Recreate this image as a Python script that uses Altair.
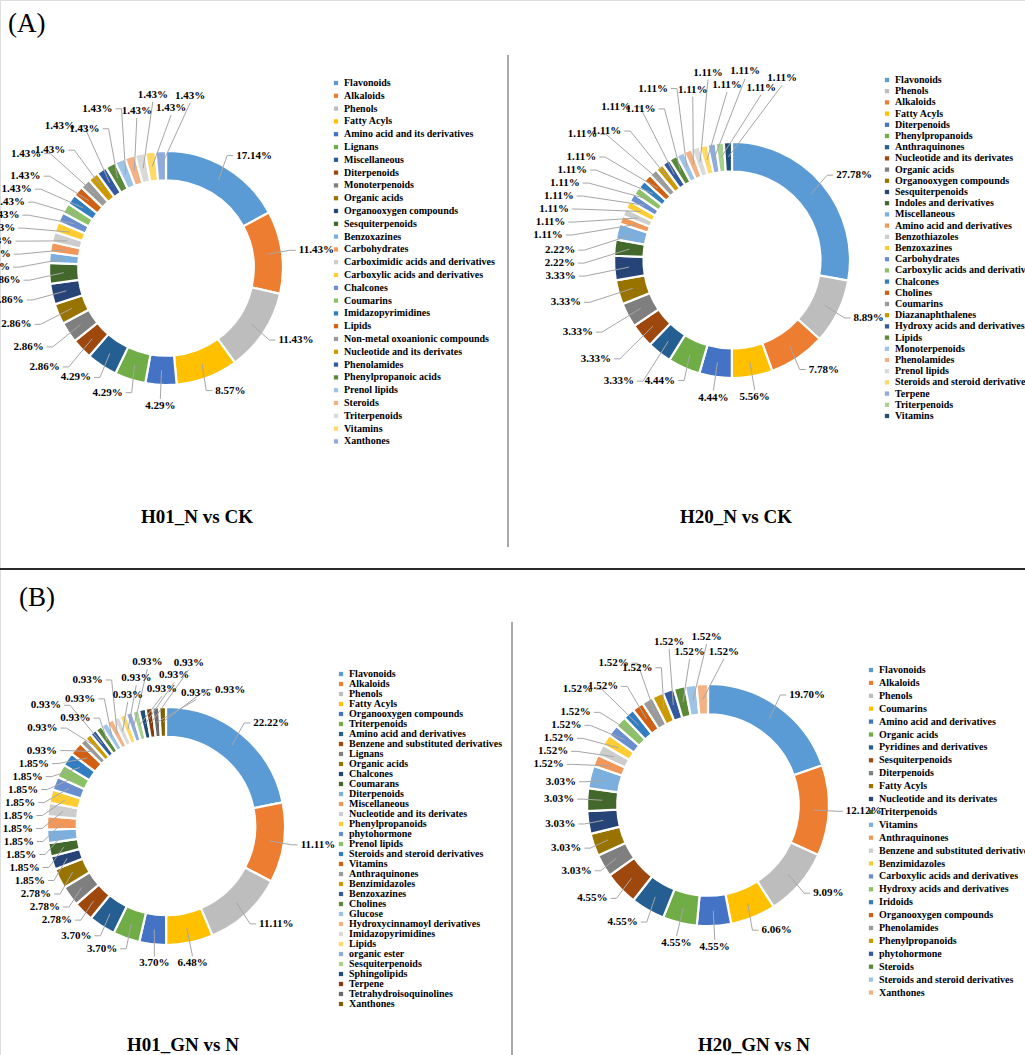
import altair as alt
import numpy as np
import pandas as pd

SERIF = "Liberation Serif"

# ---------------- data ----------------
h01_n_cats = [
    "Flavonoids", "Alkaloids", "Phenols", "Fatty Acyls", "Amino acid and its derivatives",
    "Lignans", "Miscellaneous", "Diterpenoids", "Monoterpenoids", "Organic acids",
    "Organooxygen compounds", "Sesquiterpenoids", "Benzoxazines", "Carbohydrates",
    "Carboximidic acids and derivatives", "Carboxylic acids and derivatives", "Chalcones",
    "Coumarins", "Imidazopyrimidines", "Lipids", "Non-metal oxoanionic compounds",
    "Nucleotide and its derivates", "Phenolamides", "Phenylpropanoic acids", "Prenol lipids",
    "Steroids", "Triterpenoids", "Vitamins", "Xanthones",
]
h01_n_vals = [
    17.14, 11.43, 11.43, 8.57, 4.29, 4.29, 4.29, 2.86, 2.86, 2.86, 2.86, 2.86,
    1.43, 1.43, 1.43, 1.43, 1.43, 1.43, 1.43, 1.43, 1.43, 1.43, 1.43, 1.43,
    1.43, 1.43, 1.43, 1.43, 1.43,
]

h20_n_cats = [
    "Flavonoids", "Phenols", "Alkaloids", "Fatty Acyls", "Diterpenoids", "Phenylpropanoids",
    "Anthraquinones", "Nucleotide and its derivates", "Organic acids", "Organooxygen compounds",
    "Sesquiterpenoids", "Indoles and derivatives", "Miscellaneous", "Amino acid and derivatives",
    "Benzothiazoles", "Benzoxazines", "Carbohydrates", "Carboxylic acids and derivatives",
    "Chalcones", "Cholines", "Coumarins", "Diazanaphthalenes", "Hydroxy acids and derivatives",
    "Lipids", "Monoterpenoids", "Phenolamides", "Prenol lipids",
    "Steroids and steroid derivatives", "Terpene", "Triterpenoids", "Vitamins",
]
h20_n_vals = [
    27.78, 8.89, 7.78, 5.56, 4.44, 4.44, 3.33, 3.33, 3.33, 3.33, 3.33, 2.22, 2.22,
    1.11, 1.11, 1.11, 1.11, 1.11, 1.11, 1.11, 1.11, 1.11, 1.11, 1.11, 1.11, 1.11,
    1.11, 1.11, 1.11, 1.11, 1.11,
]

h01_gn_cats = [
    "Flavonoids", "Alkaloids", "Phenols", "Fatty Acyls", "Organooxygen compounds",
    "Triterpenoids", "Amino acid and derivatives", "Benzene and substituted derivatives",
    "Lignans", "Organic acids", "Chalcones", "Coumarans", "Diterpenoids", "Miscellaneous",
    "Nucleotide and its derivates", "Phenylpropanoids", "phytohormone", "Prenol lipids",
    "Steroids and steroid derivatives", "Vitamins", "Anthraquinones", "Benzimidazoles",
    "Benzoxazines", "Cholines", "Glucose", "Hydroxycinnamoyl derivatives",
    "Imidazopyrimidines", "Lipids", "organic ester", "Sesquiterpenoids", "Sphingolipids",
    "Terpene", "Tetrahydroisoquinolines", "Xanthones",
]
h01_gn_vals = [
    22.22, 11.11, 11.11, 6.48, 3.70, 3.70, 3.70, 2.78, 2.78, 2.78,
    1.85, 1.85, 1.85, 1.85, 1.85, 1.85, 1.85, 1.85, 1.85, 1.85,
    0.93, 0.93, 0.93, 0.93, 0.93, 0.93, 0.93, 0.93, 0.93, 0.93, 0.93, 0.93, 0.93, 0.93,
]

h20_gn_cats = [
    "Flavonoids", "Alkaloids", "Phenols", "Coumarins", "Amino acid and derivatives",
    "Organic acids", "Pyridines and derivatives", "Sesquiterpenoids", "Diterpenoids",
    "Fatty Acyls", "Nucleotide and its derivates", "Triterpenoids", "Vitamins",
    "Anthraquinones", "Benzene and substituted derivatives", "Benzimidazoles",
    "Carboxylic acids and derivatives", "Hydroxy acids and derivatives", "Iridoids",
    "Organooxygen compounds", "Phenolamides", "Phenylpropanoids", "phytohormone", "Steroids",
    "Steroids and steroid derivatives", "Xanthones",
]
h20_gn_vals = [
    19.70, 12.12, 9.09, 6.06, 4.55, 4.55, 4.55, 4.55, 3.03, 3.03, 3.03, 3.03, 3.03,
    1.52, 1.52, 1.52, 1.52, 1.52, 1.52, 1.52, 1.52, 1.52, 1.52, 1.52, 1.52, 1.52,
]

panel_titles = ["H01_N vs CK", "H20_N vs CK", "H01_GN vs N", "H20_GN vs N"]
section_tags = ["(A)", "(B)"]

# Office series colours: accents, then their shades and tints
PALETTE = [
    "#5B9BD5", "#ED7D31", "#BDBDBD", "#FFC000", "#4472C4", "#70AD47",
    "#255E91", "#9E480E", "#7F7F7F", "#997300", "#264478", "#43682B",
    "#7CAFDD", "#F1975A", "#CDCDCD", "#FFCD33", "#698ED0", "#8CC168",
    "#327DC2", "#D26012", "#9A9A9A", "#CC9A00", "#335AA1", "#5A8A39",
    "#9DC3E6", "#F4B183", "#DADADA", "#FFD966", "#8FAADC", "#A9D18E",
    "#1F4E79", "#843C0C", "#6A6A6A", "#7F6000", "#203864", "#385723",
]
h20_n_colors = [PALETTE[0], PALETTE[2], PALETTE[1]] + PALETTE[3:31]

# layout of each donut panel: centre, outer radius, label ring offsets, number of
# label rows used for crowded small slices near the top, legend block, title
panels = [
    dict(cats=h01_n_cats, vals=h01_n_vals, colors=PALETTE[:29], cx=166, cy=268, R=117,
         off=(14, 26, 36), rows=2, legx=331, legy=78, legfs=10, legpad=2.8, tx=197, ty=517),
    dict(cats=h20_n_cats, vals=h20_n_vals, colors=h20_n_colors, cx=732, cy=260, R=118,
         off=(14, 36, 50), rows=2, legx=882, legy=75, legfs=10, legpad=1.2, tx=736, ty=517),
    dict(cats=h01_gn_cats, vals=h01_gn_vals, colors=PALETTE[:34], cx=166, cy=826, R=119,
         off=(14, 12, 11), rows=3, legx=336, legy=669, legfs=10, legpad=-0.1, tx=183,
         ty=1045),
    dict(cats=h20_gn_cats, vals=h20_gn_vals, colors=PALETTE[:26], cx=708, cy=805, R=121,
         off=(14, 10, 26), rows=2, legx=866, legy=665, legfs=10, legpad=2.9, tx=754,
         ty=1045),
]

HOLE = 0.75
LABEL_H = 13.0
ROW_STEP = 14.0


def text_width(s, fs=11.0):
    w = 0.0
    for ch in s:
        w += {"%": 1.0, ".": 0.25}.get(ch, 0.5)
    return w * fs


def spread_angles(mid, rl, small, wid, rows, iters=4000):
    """Push label angles apart until neighbouring labels no longer collide."""
    ang = mid.copy()
    n = len(ang)

    def need(i, j, a):
        r = min(rl[i], rl[j])
        s, c = abs(np.sin(a)), abs(np.cos(a))
        w = (wid[i] + wid[j]) / 2 + 4
        dv = LABEL_H / (r * s + 1e-9)
        dh = w / (r * c + 1e-9)
        if small[i] and small[j] and np.cos(a) > 0.55:
            dh /= rows
        return min(dv, dh)

    for _ in range(iters):
        moved = False
        for i in range(n):
            j = (i + 1) % n
            aj = ang[j] + (2 * np.pi if j == 0 else 0.0)
            gap = aj - ang[i]
            d = need(i, j, (ang[i] + aj) / 2)
            if gap < d - 1e-6:
                p = (d - gap) / 4
                ang[i] -= p
                ang[j] += p
                moved = True
        if not moved:
            break
    return ang


label_rows = []
leader_rows = []
for k, p in enumerate(panels):
    v = np.asarray(p["vals"], float)
    R = p["R"]
    rin = R * HOLE
    a1 = np.cumsum(v) / v.sum() * 2 * np.pi
    a0 = a1 - v / v.sum() * 2 * np.pi
    mid = (a0 + a1) / 2
    texts = [f"{x:.2f}%" for x in v]
    wid = np.array([text_width(t) for t in texts])
    o_big, o_mid, o_small = p["off"]
    rl = np.where(v >= 4, R + o_big, np.where(v >= 2, R + o_mid, R + o_small)).astype(float)
    small = v < 2
    ang = spread_angles(mid, rl, small, wid, p["rows"])
    # stagger the crowded small labels near the top over several rows
    flip = 0
    for i in range(len(v)):
        if small[i] and np.cos(ang[i]) > 0.55:
            rl[i] += (flip % p["rows"]) * ROW_STEP
            flip += 1
    rm = (R + rin) / 2
    for i in range(len(v)):
        ax = p["cx"] + rl[i] * np.sin(ang[i])
        ay = p["cy"] - rl[i] * np.cos(ang[i])
        px = p["cx"] + rm * np.sin(mid[i])
        py = p["cy"] - rm * np.cos(mid[i])
        s = np.sin(ang[i])
        if abs(s) >= 0.3:
            side = 1 if s > 0 else -1
            ex = ax - side * 6
            leader_rows.append(dict(x=px, y=py, x2=ex, y2=ay))
            leader_rows.append(dict(x=ex, y=ay, x2=ax, y2=ay))
            label_rows.append(dict(x=ax + side * 3, y=ay, t=texts[i],
                                   al="left" if side > 0 else "right"))
        else:
            up = np.cos(ang[i]) > 0
            leader_rows.append(dict(x=px, y=py, x2=ax, y2=ay))
            label_rows.append(dict(x=ax, y=ay + (-7 if up else 7), t=texts[i], al="center"))

labels_df = pd.DataFrame(label_rows)
leaders_df = pd.DataFrame(leader_rows)

layers = []

# donut rings with their legends
for k, p in enumerate(panels):
    df = pd.DataFrame({"cat": p["cats"], "v": p["vals"], "idx": range(len(p["cats"]))})
    ring = alt.Chart(df).mark_arc(
        outerRadius=p["R"], innerRadius=p["R"] * HOLE, stroke="white", strokeWidth=2.2
    ).encode(
        theta=alt.Theta("v:Q", stack=True),
        order=alt.Order("idx:Q"),
        color=alt.Color(
            "cat:N",
            scale=alt.Scale(domain=p["cats"], range=p["colors"]),
            legend=alt.Legend(
                orient="none", legendX=p["legx"], legendY=p["legy"], title=None,
                direction="vertical", symbolType="square", symbolSize=18,
                symbolStrokeWidth=0, labelFont=SERIF, labelFontWeight="bold",
                labelFontSize=p["legfs"], labelColor="black", rowPadding=p["legpad"],
                labelOffset=3, labelLimit=400, symbolLimit=60, padding=0,
            ),
        ),
        x=alt.value(p["cx"]),
        y=alt.value(p["cy"]),
    )
    layers.append(ring)

# leader lines
layers.append(
    alt.Chart(leaders_df).mark_rule(color="#A6A6A6", strokeWidth=1).encode(
        x=alt.X("x:Q", scale=None, axis=None),
        y=alt.Y("y:Q", scale=None, axis=None),
        x2="x2:Q",
        y2="y2:Q",
    )
)

# percentage labels
for al in ["left", "right", "center"]:
    layers.append(
        alt.Chart(labels_df).transform_filter(alt.datum.al == al).mark_text(
            align=al, baseline="middle", font=SERIF, fontWeight="bold", fontSize=11,
            color="black",
        ).encode(
            x=alt.X("x:Q", scale=None, axis=None),
            y=alt.Y("y:Q", scale=None, axis=None),
            text="t:N",
        )
    )

# panel titles
title_df = pd.DataFrame({
    "t": panel_titles,
    "x": [p["tx"] for p in panels],
    "y": [p["ty"] for p in panels],
})
layers.append(
    alt.Chart(title_df).mark_text(
        font=SERIF, fontWeight="bold", fontSize=19, baseline="middle", align="center",
        color="black",
    ).encode(x=alt.X("x:Q", scale=None, axis=None), y=alt.Y("y:Q", scale=None, axis=None),
             text="t:N")
)

# section tags
tag_df = pd.DataFrame({"t": section_tags, "x": [8, 19], "y": [24, 598]})
layers.append(
    alt.Chart(tag_df).mark_text(
        font=SERIF, fontSize=27, baseline="middle", align="left", color="black",
    ).encode(x=alt.X("x:Q", scale=None, axis=None), y=alt.Y("y:Q", scale=None, axis=None),
             text="t:N")
)

# separators
layers.append(
    alt.Chart(pd.DataFrame({"k": [0]})).mark_rule(color="#2b2b2b", strokeWidth=2).encode(
        x=alt.value(0), x2=alt.value(1025), y=alt.value(569)
    )
)
layers.append(
    alt.Chart(pd.DataFrame({"k": [0]})).mark_rule(color="#555555", strokeWidth=1).encode(
        x=alt.value(508), y=alt.value(55), y2=alt.value(547)
    )
)
layers.append(
    alt.Chart(pd.DataFrame({"k": [0]})).mark_rule(color="#555555", strokeWidth=1).encode(
        x=alt.value(512), y=alt.value(622), y2=alt.value(1055)
    )
)

chart = (
    alt.layer(*layers)
    .resolve_scale(theta="independent", color="independent")
    .properties(width=1025, height=1055, padding=0,
                autosize=alt.AutoSizeParams(type="none"))
    .configure_view(stroke=None)
    .configure(background="white")
)

chart.save("out.html", embed_options={"renderer": "svg", "actions": False})
